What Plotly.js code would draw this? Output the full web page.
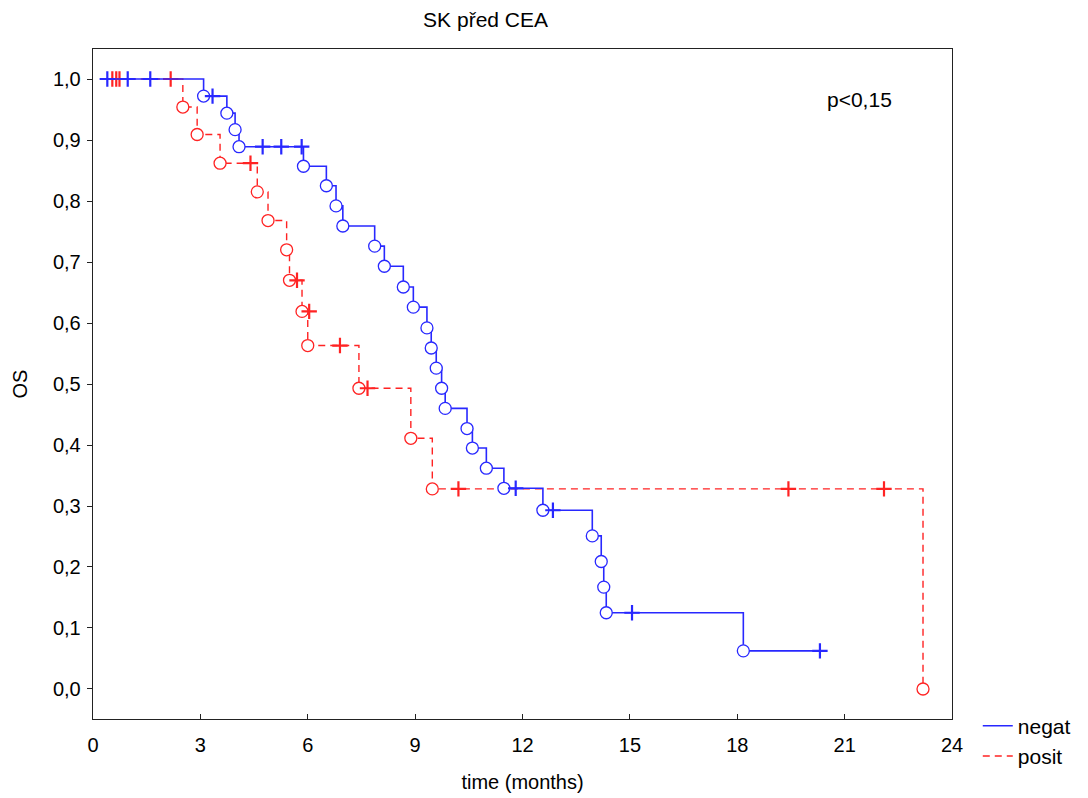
<!DOCTYPE html>
<html><head><meta charset="utf-8">
<script src="https://cdn.plot.ly/plotly-3.0.1.min.js"></script>
<style>body{margin:0;background:#fff}#chart{width:1088px;height:798px}</style>
</head><body><div id="chart"></div>
<script>
// ---- data ----
const groupNames = ['negat', 'posit'];
const startTime = 0.33;

// negat (blue): event times / survival after each event
const negEventTime = [3.09, 3.74, 3.97, 4.08, 5.88, 6.52, 6.79, 6.98, 7.87, 8.14, 8.67, 8.95, 9.33, 9.45, 9.59, 9.74, 9.84, 10.45, 10.60, 10.99, 11.48, 12.57, 13.95, 14.20, 14.27, 14.34, 18.17];
const negEventSurv = [0.972, 0.944, 0.917, 0.889, 0.857, 0.825, 0.792, 0.759, 0.726, 0.693, 0.659, 0.626, 0.592, 0.559, 0.526, 0.493, 0.460, 0.427, 0.395, 0.362, 0.329, 0.293, 0.251, 0.209, 0.167, 0.125, 0.0625];
const negCensorTime = [0.40, 0.97, 1.60, 3.34, 4.74, 5.26, 5.83, 11.81, 12.85, 15.06, 20.31];
const negCensorSurv = [1.0, 1.0, 1.0, 0.972, 0.889, 0.889, 0.889, 0.329, 0.293, 0.125, 0.0625];
const negEndTime = 20.31;

// posit (red)
const posEventTime = [2.51, 2.91, 3.55, 4.59, 4.89, 5.41, 5.49, 5.84, 6.00, 7.43, 8.88, 9.48, 23.19];
const posEventSurv = [0.954, 0.909, 0.862, 0.815, 0.768, 0.720, 0.670, 0.619, 0.563, 0.493, 0.411, 0.328, 0.0];
const posCensorTime = [0.54, 0.65, 0.74, 2.17, 4.40, 5.70, 6.04, 6.90, 7.67, 10.21, 19.43, 22.10];
const posCensorSurv = [1.0, 1.0, 1.0, 1.0, 0.862, 0.670, 0.619, 0.563, 0.493, 0.328, 0.328, 0.328];
const posEndTime = 23.19;

const xTicks = [0, 3, 6, 9, 12, 15, 18, 21, 24];
const yTicks = [0, 0.1, 0.2, 0.3, 0.4, 0.5, 0.6, 0.7, 0.8, 0.9, 1.0];
const pText = 'p<0,15';

// ---- styling ----
const BLUE = 'rgb(40,40,255)';
const RED = 'rgb(255,35,35)';
const FONT = 'Liberation Sans, Arial, sans-serif';

function stepLine(evT, evS, endT) {
  const x = [startTime].concat(evT);
  const y = [1].concat(evS);
  if (endT > evT[evT.length - 1]) { x.push(endT); y.push(evS[evS.length - 1]); }
  return {x, y};
}

const negLine = stepLine(negEventTime, negEventSurv, negEndTime);
const posLine = stepLine(posEventTime, posEventSurv, posEndTime);

const traces = [
  {x: posLine.x, y: posLine.y, mode: 'lines', name: groupNames[1], legendrank: 2,
   line: {shape: 'hv', color: RED, width: 1.4, dash: '7px,5px'}, hoverinfo: 'skip'},
  {x: posEventTime, y: posEventSurv, mode: 'markers', showlegend: false, hoverinfo: 'skip',
   marker: {symbol: 'circle', size: 12, color: 'white', line: {color: RED, width: 1.3}}},
  {x: posCensorTime, y: posCensorSurv, mode: 'markers', showlegend: false, hoverinfo: 'skip',
   marker: {symbol: 'cross-thin', size: 11, color: RED, line: {color: RED, width: 2.2}}},
  {x: negLine.x, y: negLine.y, mode: 'lines', name: groupNames[0], legendrank: 1,
   line: {shape: 'hv', color: BLUE, width: 1.6}, hoverinfo: 'skip'},
  {x: negEventTime, y: negEventSurv, mode: 'markers', showlegend: false, hoverinfo: 'skip',
   marker: {symbol: 'circle', size: 12, color: 'white', line: {color: BLUE, width: 1.3}}},
  {x: negCensorTime, y: negCensorSurv, mode: 'markers', showlegend: false, hoverinfo: 'skip',
   marker: {symbol: 'cross-thin', size: 11, color: BLUE, line: {color: BLUE, width: 2.2}}}
];

const layout = {
  width: 1088, height: 798,
  margin: {l: 93, r: 134, t: 49, b: 79},
  paper_bgcolor: 'white', plot_bgcolor: 'white',
  separators: ',.',
  font: {family: FONT, size: 20, color: 'black'},
  title: {text: 'SK před CEA', font: {family: FONT, size: 21, color: 'black'},
          x: 0.457, xref: 'paper', xanchor: 'center', y: 0.975, yref: 'container', yanchor: 'middle'},
  xaxis: {range: [0, 24], tickvals: xTicks, ticktext: xTicks.map(String),
          ticks: 'inside', ticklen: 5, tickcolor: '#222', tickwidth: 1,
          showline: true, mirror: true, linecolor: '#222', linewidth: 1.3,
          showgrid: false, zeroline: false, ticklabelstandoff: 8,
          tickfont: {family: FONT, size: 20},
          title: {text: 'time (months)', font: {family: FONT, size: 20}, standoff: 19}},
  yaxis: {range: [-0.0492, 1.0492], tickvals: yTicks, tickformat: '.1f',
          ticks: 'outside', ticklen: 5, tickcolor: '#222', tickwidth: 1,
          showline: true, mirror: true, linecolor: '#222', linewidth: 1.3,
          showgrid: false, zeroline: false, ticklabelstandoff: 2,
          tickfont: {family: FONT, size: 20},
          title: {text: 'OS', font: {family: FONT, size: 20}, standoff: 20}},
  showlegend: true,
  legend: {x: 1.03, xanchor: 'left', y: 0.02, yanchor: 'top',
           font: {family: FONT, size: 21}, bgcolor: 'rgba(0,0,0,0)', borderwidth: 0,
           tracegroupgap: 0},
  annotations: [{text: pText, xref: 'paper', yref: 'paper', x: 0.8925, y: 0.924,
                 xanchor: 'center', yanchor: 'middle', showarrow: false,
                 font: {family: FONT, size: 21, color: 'black'}}]
};

Plotly.newPlot('chart', traces, layout, {displayModeBar: false, staticPlot: true});
</script>
</body></html>
